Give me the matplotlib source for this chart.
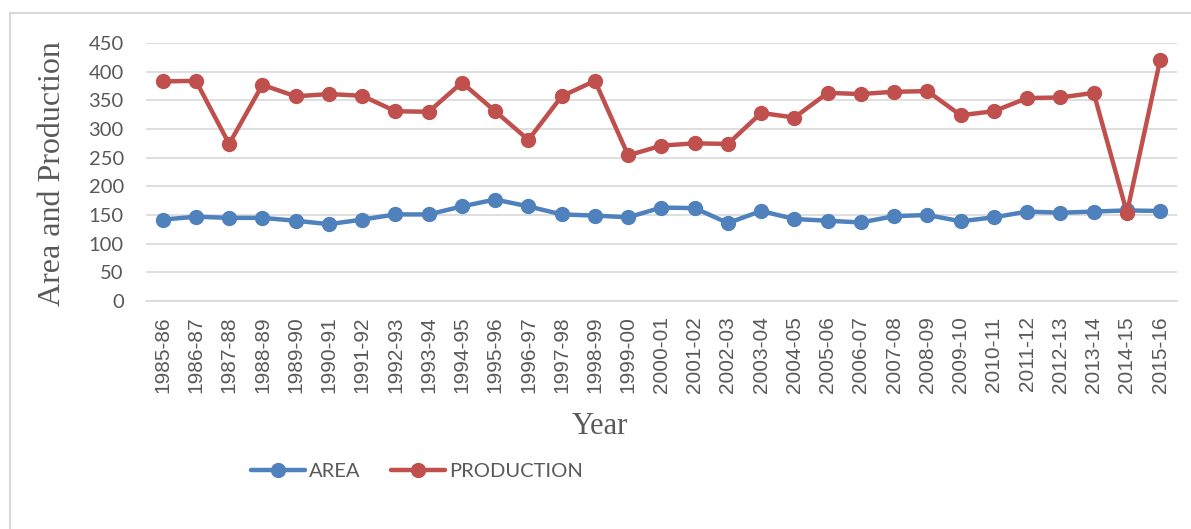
import matplotlib.pyplot as plt
from matplotlib.patches import Rectangle
import numpy as np

years = ["1985-86", "1986-87", "1987-88", "1988-89", "1989-90", "1990-91",
         "1991-92", "1992-93", "1993-94", "1994-95", "1995-96", "1996-97",
         "1997-98", "1998-99", "1999-00", "2000-01", "2001-02", "2002-03",
         "2003-04", "2004-05", "2005-06", "2006-07", "2007-08", "2008-09",
         "2009-10", "2010-11", "2011-12", "2012-13", "2013-14", "2014-15",
         "2015-16"]
area = [142, 147, 145, 145, 140, 134, 142, 151, 151, 165, 177, 165, 151, 149,
        146, 163, 162, 136, 157, 143, 140, 137, 148, 150, 139, 146, 156, 154,
        156, 158, 157]
production = [383, 384, 274, 377, 357, 361, 358, 331, 330, 381, 331, 281, 357,
              384, 254, 271, 275, 274, 328, 320, 363, 361, 365, 366, 324, 331,
              354, 355, 363, 154, 421]

blue = "#4F81BD"
red = "#C0504D"
grey = "#595959"

fig = plt.figure(figsize=(11.91, 5.29), dpi=100)
ax = fig.add_axes([0.1226, 0.431, 0.8655, 0.4877])

x = np.arange(len(years))
ax.plot(x, area, color=blue, lw=3.2, marker="o", ms=10, label="AREA",
        solid_capstyle="round", zorder=3)
ax.plot(x, production, color=red, lw=3.2, marker="o", ms=10, label="PRODUCTION",
        solid_capstyle="round", zorder=3)

ax.set_xlim(-0.5, len(years) - 0.5)
ax.set_ylim(0, 450)
ax.set_yticks(np.arange(0, 451, 50))
ax.set_xticks(x)
ax.set_xticklabels(years, rotation=90, fontsize=15, color=grey,
                   family="Liberation Sans")
for lab in ax.get_yticklabels():
    lab.set_fontsize(14.5)
    lab.set_color(grey)
    lab.set_family("Lato")
ax.tick_params(axis="both", length=0)
ax.tick_params(axis="x", pad=11)
ax.tick_params(axis="y", pad=16)

ax.grid(axis="y", color="#D9D9D9", lw=1.2)
ax.set_axisbelow(True)
for side in ["top", "right", "left"]:
    ax.spines[side].set_visible(False)
ax.spines["bottom"].set_color("#D9D9D9")
ax.spines["bottom"].set_linewidth(1.2)

fig.text(0.0445, 0.671, "Area and Production", rotation=90, ha="center",
         va="center", fontsize=23, family="Liberation Serif", color=grey)
fig.text(0.5035, 0.193, "Year", ha="center", va="center", fontsize=22,
         family="Liberation Serif", color=grey)

fig.legend(loc="center left", bbox_to_anchor=(0.2105, 0.108), frameon=False,
           ncol=2, borderpad=0, borderaxespad=0, handlelength=2.7,
           handletextpad=0.2, columnspacing=1.5,
           prop={"family": "Lato", "size": 14.5}, labelcolor=grey)

fig.add_artist(Rectangle((10 / 1191, -0.2), 1.2, 1.2 - 13 / 529,
                         transform=fig.transFigure, fill=False,
                         edgecolor="#D9D9D9", lw=1.5))

plt.savefig("out.png", dpi=100)
